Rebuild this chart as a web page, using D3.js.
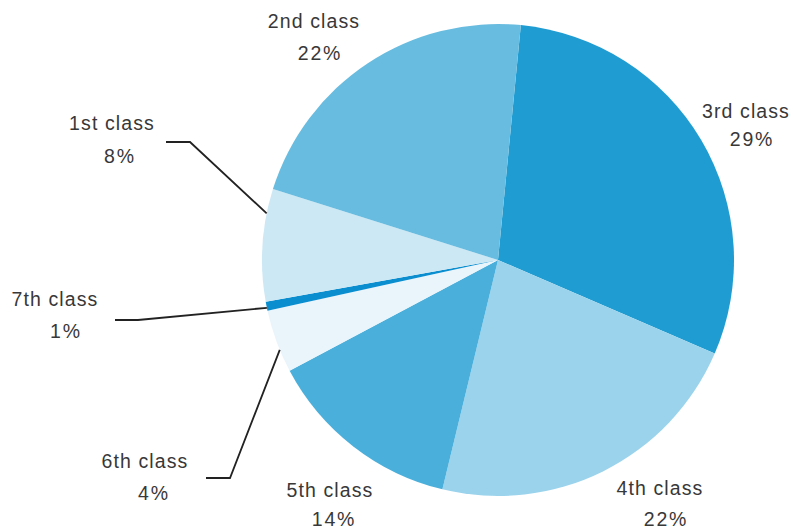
<!DOCTYPE html>
<html><head><meta charset="utf-8">
<script src="https://cdn.jsdelivr.net/npm/d3@7"></script>
<style>body{margin:0;background:#fff}svg{display:block}</style>
</head><body>
<svg id="c" width="793" height="530"></svg>
<script>
// Data
const categories = ["3rd class","4th class","5th class","6th class","7th class","1st class","2nd class"];
const values = [29.93, 22.3, 13.44, 4.33, 0.61, 7.69, 21.68];
const percentLabels = ["29%","22%","14%","4%","1%","8%","22%"];
const colors = ["#1f9dd2","#9bd3ec","#4bafdb","#e9f5fb","#0a8ecf","#cde8f5","#68bce0"];

// Layout
const W = 793, H = 530, cx = 498, cy = 260, R = 236;
const startDeg = 5.56;
// label layout: [x, y of name baseline, x of percent center, y of percent baseline]
const labelPos = {
  "3rd class": [746, 118, 752, 146],
  "4th class": [660, 495, 666, 526],
  "5th class": [330, 497, 334, 526],
  "6th class": [145, 468, 154, 500],
  "7th class": [55, 306, 66, 338],
  "1st class": [112, 130, 120, 163],
  "2nd class": [314, 28, 320, 60]
};
// leader lines: fraction within slice, elbow point, end point
const leaders = {
  "1st class": {frac: 0.78, elbow: [190, 142], end: [166, 142]},
  "7th class": {frac: 0.32, elbow: [138, 320], end: [115, 320]},
  "6th class": {frac: 0.36, elbow: [230, 478], end: [206, 478]}
};

const svg = d3.select("#c");
const g = svg.append("g").attr("transform", `translate(${cx},${cy})`);
const pie = d3.pie().sort(null).value(d => d.v)
  .startAngle(startDeg * Math.PI / 180)
  .endAngle((startDeg + 360) * Math.PI / 180);
const data = categories.map((c, i) => ({c, v: values[i], p: percentLabels[i], col: colors[i]}));
const arcs = pie(data);
const arc = d3.arc().innerRadius(0).outerRadius(R);

g.selectAll("path.slice").data(arcs).join("path")
  .attr("class", "slice")
  .attr("d", arc)
  .attr("fill", d => d.data.col);

// leader lines
const line = d3.line();
arcs.forEach(a => {
  const L = leaders[a.data.c];
  if (!L) return;
  const ang = a.startAngle + L.frac * (a.endAngle - a.startAngle);
  const p0 = [cx + R * Math.sin(ang), cy - R * Math.cos(ang)];
  svg.append("path")
    .attr("d", line([p0, L.elbow, L.end]))
    .attr("fill", "none")
    .attr("stroke", "#222")
    .attr("stroke-width", 1.8);
});

// labels
arcs.forEach(a => {
  const P = labelPos[a.data.c];
  svg.append("text")
    .attr("x", P[0]).attr("y", P[1])
    .attr("text-anchor", "middle")
    .attr("font-family", "Liberation Sans, Arial, sans-serif")
    .attr("font-size", 19.5)
    .attr("letter-spacing", 1.1)
    .attr("fill", "#383838")
    .text(a.data.c);
  svg.append("text")
    .attr("x", P[2]).attr("y", P[3])
    .attr("text-anchor", "middle")
    .attr("font-family", "Liberation Sans, Arial, sans-serif")
    .attr("font-size", 19.5)
    .attr("letter-spacing", 1.8)
    .attr("fill", "#383838")
    .text(a.data.p);
});
</script>
</body></html>
